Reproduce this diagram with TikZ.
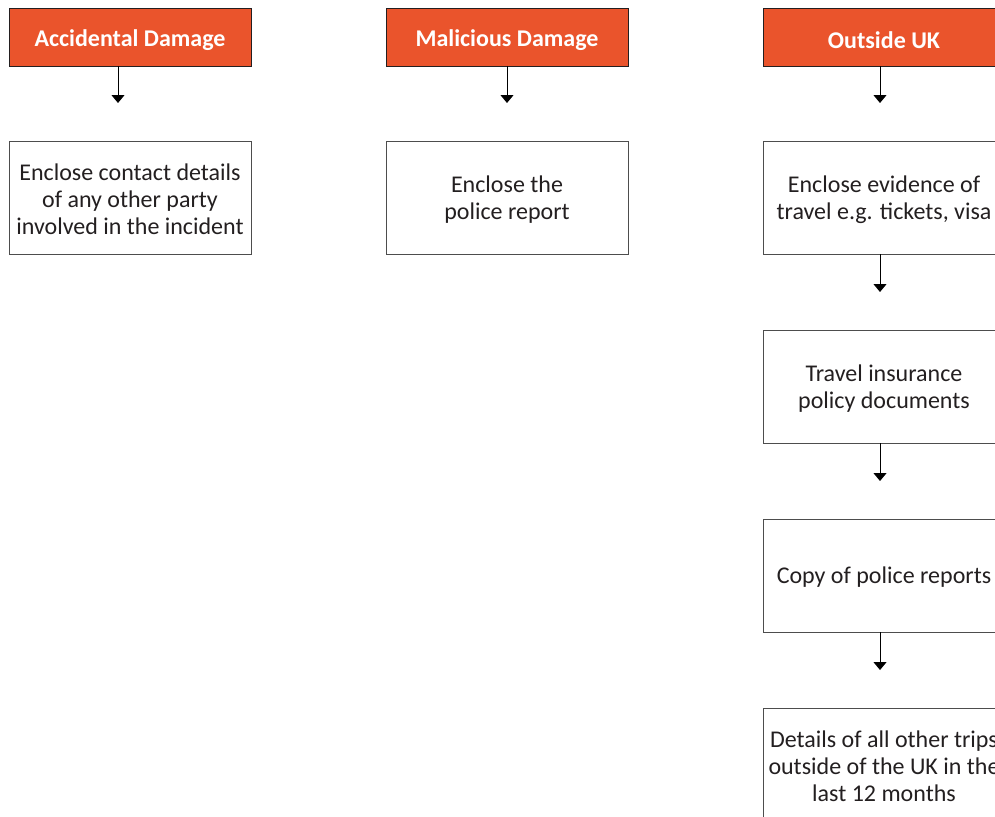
\documentclass[tikz,border=0pt]{standalone}
\usepackage{fontspec}
\setmainfont{Carlito}
\usetikzlibrary{arrows.meta}
\definecolor{hdr}{HTML}{EA542C}
\definecolor{txt}{HTML}{231F20}
\definecolor{bord}{HTML}{4D4D4D}
\begin{document}
\begin{tikzpicture}[x=1pt,y=-1pt,
  head/.style={draw=txt,line width=0.8pt,fill=hdr,minimum width=242pt,minimum height=58pt,inner sep=0pt},
  headtxt/.style={text=white,inner sep=0pt,yshift=-3pt,font=\fontsize{24}{27}\selectfont\bfseries},
  item/.style={draw=bord,line width=0.8pt,minimum width=242pt,minimum height=113pt,inner sep=0pt},
  itemtxt/.style={text=txt,inner sep=0pt,align=center,yshift=-2pt,font=\fontsize{24}{27}\selectfont},
  arr/.style={draw=black,line width=0.9pt,-{Triangle[width=13pt,length=8pt]}}]
\useasboundingbox (0,0) rectangle (995,816);
\clip (0,0) rectangle (995,816);
\node[head] (h1) at (130,37) {};
\node[head] (h2) at (507,37) {};
\node[head] (h3) at (884,37) {};
\node[headtxt] (h1t) at (h1.center) {Accidental Damage};
\node[headtxt] (h2t) at (h2.center) {Malicious Damage};
\node[headtxt] (h3t) at (h3.center) {Outside UK};
\node[item] (a1) at (130,197.5) {};
\node[item] (b1) at (507,197.5) {};
\node[item] (c1) at (884,197.5) {};
\node[item] (c2) at (884,386.5) {};
\node[item] (c3) at (884,575.5) {};
\node[item] (c4) at (884,764.5) {};
\node[itemtxt] (a1t) at (a1.center) {Enclose contact details\\of any other party\\involved in the incident};
\node[itemtxt] (b1t) at (b1.center) {Enclose the\\police report};
\node[itemtxt] (c1t) at (c1.center) {Enclose evidence of\\travel e.g. tickets, visa};
\node[itemtxt] (c2t) at (c2.center) {Travel insurance\\policy documents};
\node[itemtxt] (c3t) at (c3.center) {Copy of police reports};
\node[itemtxt] (c4t) at (c4.center) {Details of all other trips\\outside of the UK in the\\last 12 months};
\coordinate (t1) at (118,103);
\coordinate (t2) at (507,103);
\coordinate (t3) at (880,103);
\coordinate (t4) at (880,292);
\coordinate (t5) at (880,481);
\coordinate (t6) at (880,670);
\draw[arr] (h1.south -| t1) -- (t1);
\draw[arr] (h2.south -| t2) -- (t2);
\draw[arr] (h3.south -| t3) -- (t3);
\draw[arr] (c1.south -| t4) -- (t4);
\draw[arr] (c2.south -| t5) -- (t5);
\draw[arr] (c3.south -| t6) -- (t6);
\end{tikzpicture}
\end{document}
